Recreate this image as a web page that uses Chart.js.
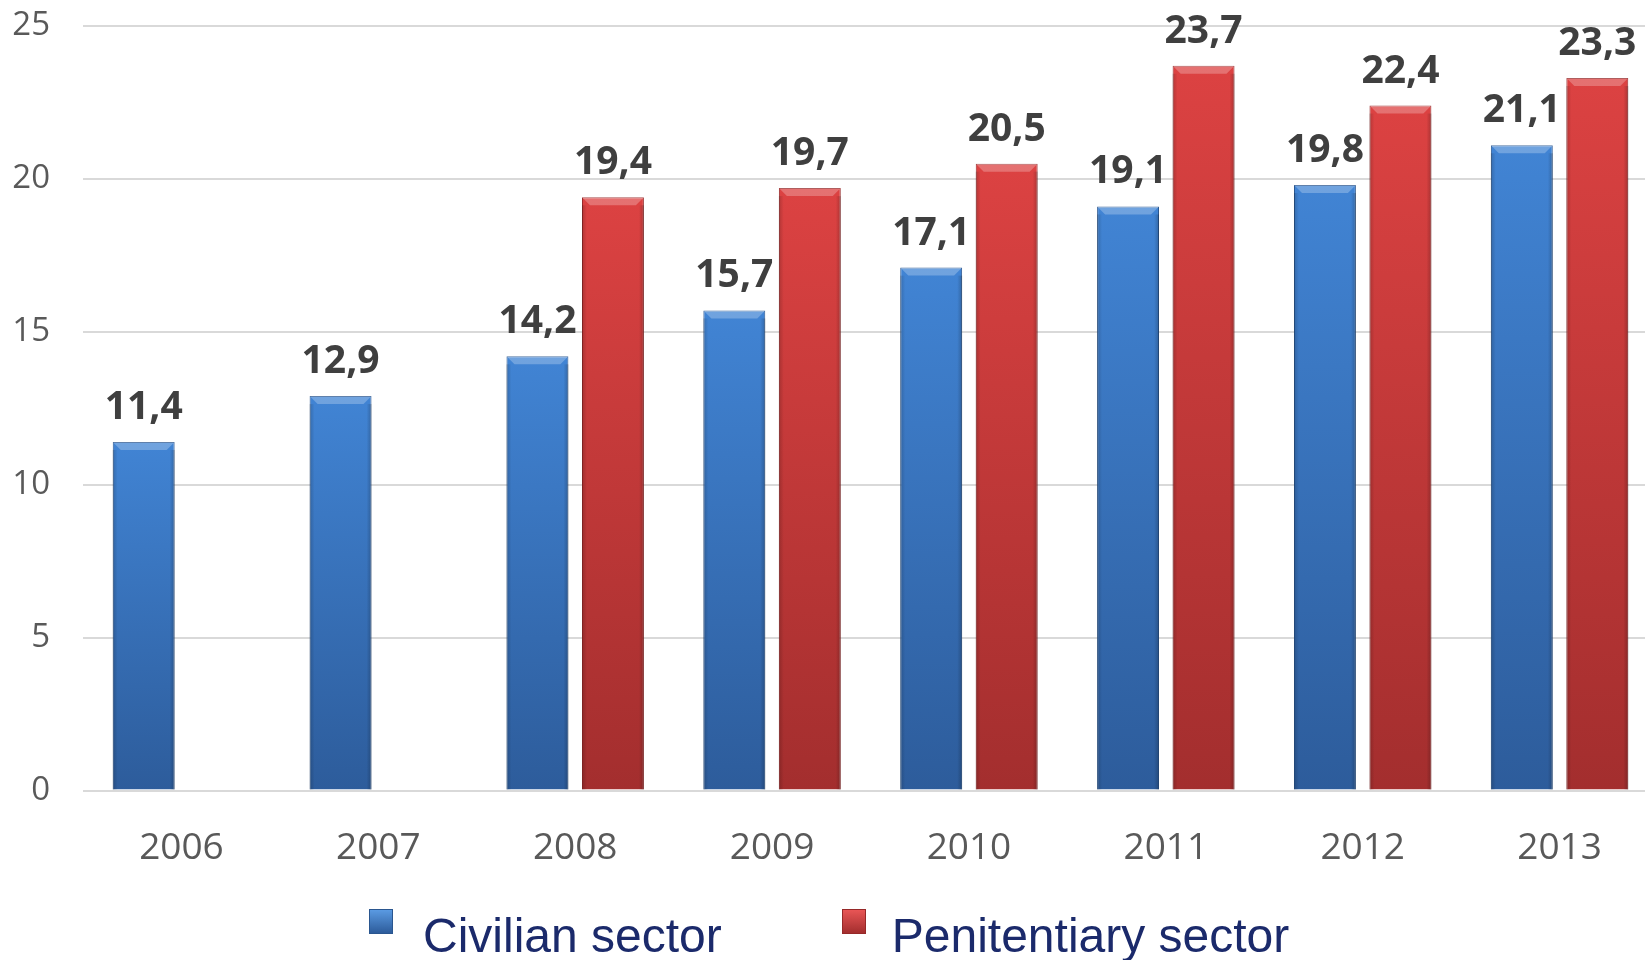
<!DOCTYPE html>
<html>
<head>
<meta charset="utf-8">
<script src="https://cdn.jsdelivr.net/npm/chart.js@4.4.1/dist/chart.umd.min.js"></script>
<style>
html,body{margin:0;padding:0;background:#fff;overflow:hidden;}
#wrap{position:relative;width:1645px;height:960px;overflow:hidden;}
#chart{position:absolute;left:0;top:0;}
#legend{position:absolute;left:369px;top:909px;display:flex;align-items:flex-start;
    font-family:"Liberation Sans",Arial,sans-serif;font-size:48px;color:#1b2a6b;white-space:nowrap;}
#legend .item{display:flex;align-items:flex-start;margin-right:120px;}
#legend .box{width:24px;height:25px;margin-right:30px;box-sizing:border-box;}
#legend .item + .item .box{margin-right:26px;}
#legend .txt{line-height:48px;margin-top:3px;}
</style>
</head>
<body>
<div id="wrap">
    <!-- plot runs a bit past the right edge, as in the original -->
    <canvas id="chart" width="1658" height="960"></canvas>
    <div id="legend"></div>
</div>
<script>
// data

const years = ['2006', '2007', '2008', '2009', '2010', '2011', '2012', '2013'];
const civilian = [11.4, 12.9, 14.2, 15.7, 17.1, 19.1, 19.8, 21.1];
const penitentiary = [null, null, 19.4, 19.7, 20.5, 23.7, 22.4, 23.3];
const seriesNames = ['Civilian sector', 'Penitentiary sector'];
const yTicks = [0, 5, 10, 15, 20, 25];

// styles

const blue = {top: '#4184d4', bottom: '#2d5c9b', border: '#2a568f', legend: 'linear-gradient(#5a9ae2,#2d5c9b)'};
const red = {top: '#dc4242', bottom: '#a32e2e', border: '#962828', legend: 'linear-gradient(#e85555,#a32e2e)'};

function barFill(c){
    return ctx=>{
        const chart = ctx.chart;
        if(!chart.chartArea || ctx.type!=='data' || !ctx.parsed || ctx.parsed.y==null) return c.bottom;
        const y = chart.scales.y;
        const g = chart.ctx.createLinearGradient(0, y.getPixelForValue(ctx.parsed.y), 0, y.getPixelForValue(0));
        g.addColorStop(0, c.top);
        g.addColorStop(1, c.bottom);
        return g;
    };
}

// bevel look on each bar
const bevelPlugin = {
    id: 'bevel',
    afterDatasetsDraw(chart){
        const ctx = chart.ctx;
        chart.data.datasets.forEach((ds, i)=>{
            chart.getDatasetMeta(i).data.forEach((bar, j)=>{
                if(ds.data[j]==null) return;
                const {x, y, width, base} = bar.getProps(['x','y','width','base'], true);
                const l = x - width/2, r = x + width/2, b = 8;
                ctx.save();
                // top bevel
                ctx.fillStyle = 'rgba(255,255,255,0.25)';
                ctx.beginPath();
                ctx.moveTo(l, y); ctx.lineTo(r, y); ctx.lineTo(r-b, y+b); ctx.lineTo(l+b, y+b);
                ctx.closePath(); ctx.fill();
                // side shading
                let g = ctx.createLinearGradient(l, 0, r, 0);
                g.addColorStop(0, 'rgba(0,0,0,0.18)');
                g.addColorStop(0.08, 'rgba(0,0,0,0)');
                g.addColorStop(0.92, 'rgba(0,0,0,0)');
                g.addColorStop(1, 'rgba(0,0,0,0.22)');
                ctx.fillStyle = g;
                ctx.fillRect(l, y+b, width, base-y-b);
                ctx.restore();
            });
        });
    }
};

// value labels above bars
const valueLabels = {
    id: 'valueLabels',
    afterDatasetsDraw(chart){
        const ctx = chart.ctx;
        ctx.save();
        ctx.font = 'bold 39px "Open Sans", sans-serif';
        ctx.fillStyle = '#3f3f3f';
        ctx.textAlign = 'center';
        ctx.textBaseline = 'alphabetic';
        chart.data.datasets.forEach((ds, i)=>{
            chart.getDatasetMeta(i).data.forEach((bar, j)=>{
                const v = ds.data[j];
                if(v==null) return;
                ctx.fillText(v.toFixed(1).replace('.', ','), bar.x, bar.y - 23);
            });
        });
        ctx.restore();
    }
};

const chart = new Chart('chart', {
    type: 'bar',
    data: {
        labels: years,
        datasets: [
            {
                label: seriesNames[0],
                data: civilian,
                backgroundColor: barFill(blue),
                borderColor: blue.border,
                borderWidth: 1,
                legendFill: blue.legend
            },
            {
                label: seriesNames[1],
                data: penitentiary,
                backgroundColor: barFill(red),
                borderColor: red.border,
                borderWidth: 1,
                legendFill: red.legend
            }
        ]
    },
    options: {
        responsive: false,
        animation: false,
        devicePixelRatio: 1,
        categoryPercentage: 0.767,
        barPercentage: 0.82,
        layout: {padding: {top: 26, right: 0, bottom: 61, left: 0}},
        plugins: {
            legend: {display: false},
            tooltip: {enabled: false}
        },
        scales: {
            x: {
                grid: {display: false},
                border: {display: false},
                ticks: {
                    color: '#595959',
                    font: {family: '"Open Sans", sans-serif', size: 37},
                    padding: 28
                }
            },
            y: {
                min: 0,
                max: 25,
                afterBuildTicks: s=>{ s.ticks = yTicks.map(v=>({value: v})); },
                afterFit: s=>{ s.width = 83; },
                grid: {color: '#d9d9d9', lineWidth: 2, drawTicks: true, tickLength: 33, tickColor: 'rgba(0,0,0,0)'},
                border: {display: false},
                ticks: {
                    color: '#595959',
                    font: {family: '"Open Sans", sans-serif', size: 33},
                    padding: 0
                }
            }
        }
    },
    plugins: [bevelPlugin, valueLabels]
});

// legend

const legendEl = document.getElementById('legend');
chart.data.datasets.forEach(ds=>{
    const item = document.createElement('div');
    item.className = 'item';
    const box = document.createElement('div');
    box.className = 'box';
    box.style.background = ds.legendFill;
    box.style.border = '1px solid ' + ds.borderColor;
    const txt = document.createElement('div');
    txt.className = 'txt';
    txt.textContent = ds.label;
    item.appendChild(box);
    item.appendChild(txt);
    legendEl.appendChild(item);
});
</script>
</body>
</html>
